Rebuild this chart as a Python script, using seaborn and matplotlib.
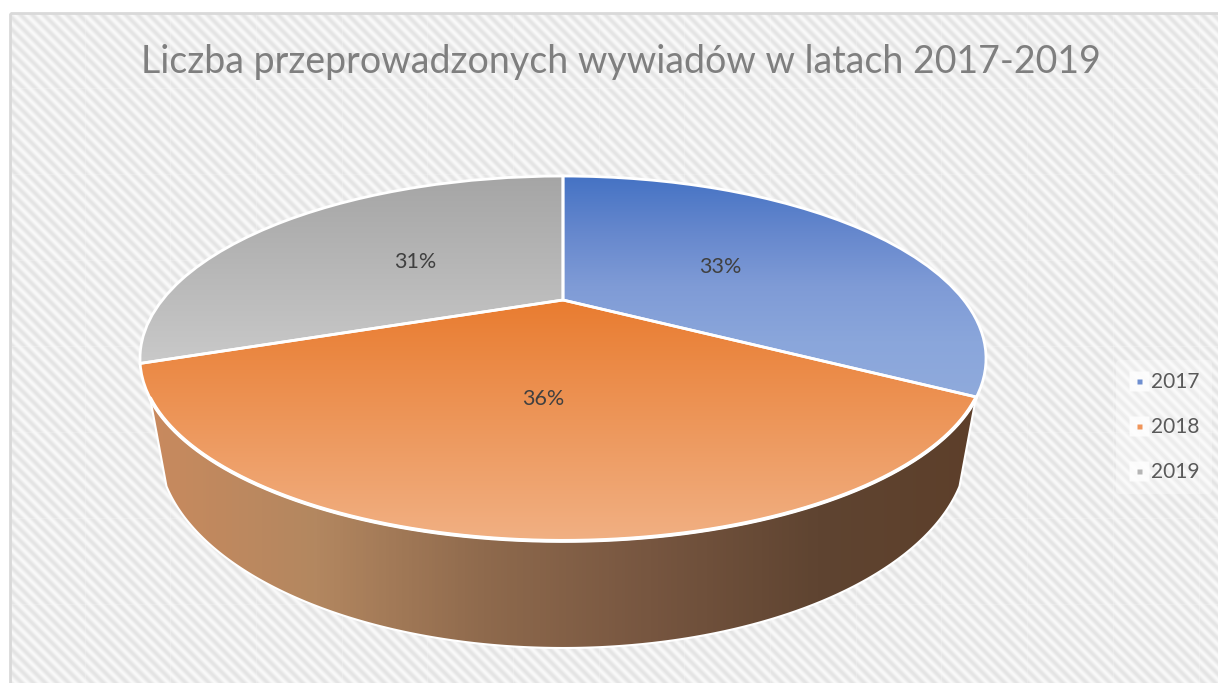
import numpy as np
import seaborn as sns
from matplotlib import pyplot as plt
from matplotlib import transforms as mtransforms
from matplotlib.legend_handler import HandlerTuple
from matplotlib.lines import Line2D
from matplotlib.patches import Polygon, Rectangle

# data (labels round to 33, 36, 31)
years = ['2017', '2018', '2019']
shares = [33.3, 36.1, 30.6]
title = 'Liczba przeprowadzonych wywiadów w latach 2017-2019'

sns.set_theme(style='white')
plt.rcParams['font.family'] = ['Lato', 'DejaVu Sans']

# colour stops of each slice gradient, top to bottom
slice_colors = [['#4472C4', '#6587CD', '#7F9BD6', '#8AA6DB', '#8FAADC'],
                ['#E97C30', '#F1B083'],
                ['#A5A5A5', '#C9C9C9']]
wall_colors = ['#C98A5E', '#B38760', '#8F6A4D', '#775640', '#5F4431', '#5D3F2A']
W, H = 1218, 683


# tilted pie: the unit circle goes to pixels with a perspective division
class Tilt(mtransforms.Transform):
    input_dims = 2
    output_dims = 2

    def transform_non_affine(self, values):
        values = np.asarray(values, dtype=float)
        div = 1 + 0.3205 * values[:, 1]
        return np.column_stack([563 + 400.7 * values[:, 0] / div,
                                300 - 163.7 * values[:, 1] / div])


tilt = Tilt()

fig = plt.figure(figsize=(W / 100, H / 100), dpi=100, facecolor='white')
ax = fig.add_axes([0, 0, 1, 1])

# wedges come from the pie call, the look is added on top of them
wedges, _, pct = ax.pie(shares, startangle=90, counterclock=False, radius=1,
                        autopct='%.0f%%', pctdistance=0.49,
                        textprops={'fontsize': 15.5, 'color': '#404040'})
ax.set_aspect('auto')

# striped background
yy, xx = np.mgrid[13:H, 10:W]
stripes = 0.5 + 0.5 * np.cos(2 * np.pi * (xx - yy) / 11.7)
for sx in np.arange(85, W, 85.7).astype(int):
    stripes[:, sx - 10] = 0.25 + 0.75 * stripes[:, sx - 10]
for sy in np.arange(88, H, 86):
    stripes[sy - 13, :] = 0.25 + 0.75 * stripes[sy - 13, :]
ax.imshow(stripes, cmap=sns.blend_palette(['#E4E4E4', '#F9F9F9'], as_cmap=True),
          extent=(10, W, H, 13), aspect='auto', zorder=0, vmin=0, vmax=1)
ax.add_patch(Rectangle((10, 13), W, H, fc='none', ec='#D9D9D9', lw=2, zorder=1))

# side wall between the front of the top rim and the lower ellipse
t = np.linspace(np.pi, 2 * np.pi, 400)
rim = tilt.transform(np.column_stack([np.cos(t), np.sin(t)]))
rim = rim[rim[:, 1] >= 398]
t = np.linspace(0, np.pi, 400)
low = np.column_stack([563 + 405 * np.cos(t), 445 + 203 * np.sin(t)])
low = low[low[:, 1] >= 485]
wall = Polygon(np.vstack([rim, low]), closed=True, fc='none', ec='white', lw=1.5, zorder=3)
ax.add_patch(wall)
im = ax.imshow(np.linspace(0, 1, 256)[None, :],
               cmap=sns.blend_palette(wall_colors, as_cmap=True),
               extent=(147, 985, 660, 390), aspect='auto', zorder=2)
im.set_clip_path(wall)

# slices with a vertical gradient
for wedge, stops in zip(wedges, slice_colors):
    wedge.set_transform(tilt + ax.transData)
    wedge.set(facecolor='none', edgecolor='white', linewidth=2, zorder=5)
    box = tilt.transform_path(wedge.get_path()).get_extents()
    im = ax.imshow(np.linspace(0, 1, 256)[:, None],
                   cmap=sns.blend_palette(stops, as_cmap=True),
                   extent=(box.x0, box.x1, box.y1, box.y0), aspect='auto', zorder=4)
    im.set_clip_path(wedge)

# thicker white lip where the top meets the wall
ax.plot(rim[:, 0], rim[:, 1], color='white', lw=2.8, zorder=5, solid_capstyle='round')

# labels sit a few pixels lower than the pie call puts them
nudge = mtransforms.Affine2D().translate(0, -4)
for txt in pct:
    txt.set_transform(tilt + ax.transData + nudge)
    txt.set_zorder(6)

ax.set_xlim(0, W)
ax.set_ylim(H, 0)
ax.set_axis_off()

ax.text(621, 62, title, ha='center', va='center', fontsize=27, color='#7F7F7F', zorder=6)

# legend with the small square keys on white tiles
handles = [(Line2D([], [], ls='none', marker='s', ms=14, mfc='white', mec='none', alpha=0.8),
            Line2D([], [], ls='none', marker='s', ms=3.6, mfc=c, mec='none'))
           for c in ['#6F8FD0', '#F0955A', '#B5B5B5']]
leg = ax.legend(handles, years, handler_map={tuple: HandlerTuple(ndivide=1, pad=0)},
                loc='center left', bbox_to_anchor=(1116 / W, 1 - 427 / H), fontsize=15,
                labelcolor='#595959', framealpha=0.3, facecolor='white', edgecolor='none',
                labelspacing=1.19, handlelength=1, handletextpad=0.1, borderpad=0.6,
                borderaxespad=0)
leg.set_zorder(6)

plt.savefig('out.png', dpi=100)
